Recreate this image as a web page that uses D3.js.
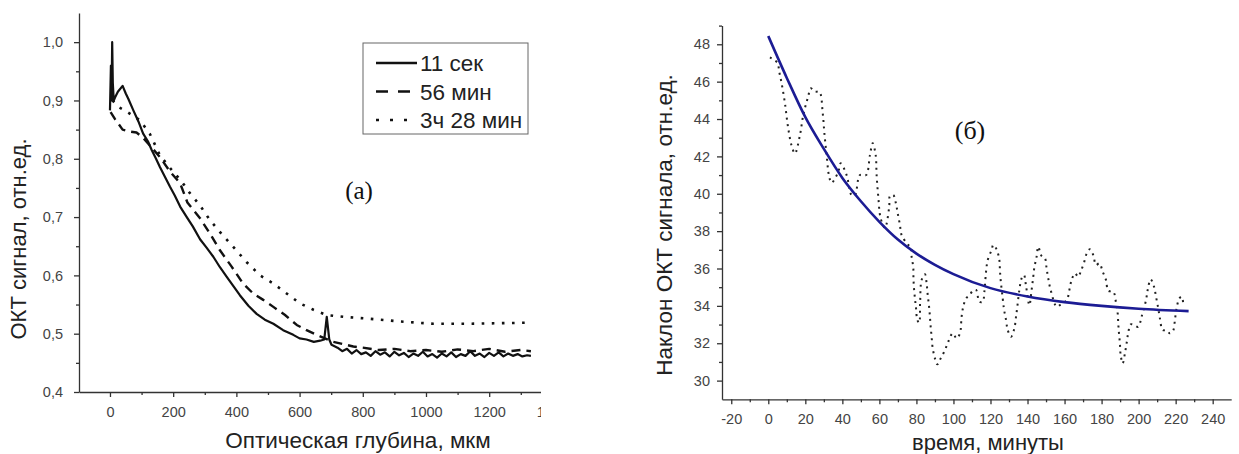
<!DOCTYPE html>
<html>
<head>
<meta charset="utf-8">
<script src="https://cdn.jsdelivr.net/npm/d3@7"></script>
<style>
  body { margin: 0; background: #fff; }
  svg text { font-family: "Liberation Sans", Arial, sans-serif; }
  .axis path, .axis line { stroke: #333; stroke-width: 1.3; }
  .axis text { fill: #444; font-size: 14.5px; }
  .axis-title { fill: #222; }
  .panel-label { font-family: "Liberation Serif", "Times New Roman", serif !important; fill: #111; }
</style>
</head>
<body>
<svg id="chart"></svg>
<script>
// ---- left panel (а): OCT signal vs optical depth ----
const depth11s = [0, 3, 5, 7, 9, 12, 16, 25, 40, 50, 58, 74, 90, 105, 120, 132, 145, 158, 175, 190, 205, 222, 243, 262, 285, 305, 327, 348, 369, 390, 411, 438, 464, 490, 517, 548, 580, 600, 622, 645, 665, 678, 686, 694, 701,
  720, 735, 750, 765, 780, 795, 810, 825, 840, 855, 870, 885, 900, 915, 930, 945, 960, 975, 990, 1005, 1020, 1035, 1050, 1065, 1080, 1095, 1110, 1125, 1140, 1155, 1170, 1185, 1200, 1215, 1230, 1245, 1260, 1275, 1290, 1305, 1320, 1332];
const signal11s = [0.883, 0.96, 0.90, 1.0, 0.93, 0.90, 0.905, 0.915, 0.925, 0.912, 0.903, 0.883, 0.864, 0.843, 0.83, 0.815, 0.801, 0.786, 0.768, 0.752, 0.737, 0.718, 0.70, 0.684, 0.662, 0.648, 0.632, 0.614, 0.598, 0.582, 0.566, 0.548, 0.534, 0.524, 0.517, 0.506, 0.498, 0.492, 0.49, 0.486, 0.488, 0.49, 0.529, 0.49, 0.481,
  0.476, 0.47, 0.474, 0.466, 0.472, 0.465, 0.468, 0.462, 0.47, 0.464, 0.468, 0.461, 0.469, 0.463, 0.467, 0.46, 0.466, 0.462, 0.469, 0.461, 0.465, 0.459, 0.466, 0.461, 0.468, 0.46, 0.465, 0.462, 0.47, 0.462, 0.466, 0.46, 0.467, 0.462, 0.468, 0.461, 0.466, 0.462, 0.465, 0.461, 0.463, 0.462];

const depth56m = [2, 16, 40, 60, 84, 105, 126, 158, 190, 222, 245, 285, 316, 348, 385, 421, 453, 485, 517, 554, 591, 622, 654, 706, 770, 800, 850, 900, 950, 1000, 1050, 1100, 1150, 1200, 1250, 1300, 1332];
const signal56m = [0.88, 0.868, 0.85, 0.847, 0.845, 0.836, 0.823, 0.803, 0.778, 0.758, 0.725, 0.698, 0.672, 0.643, 0.615, 0.586, 0.569, 0.558, 0.546, 0.532, 0.515, 0.506, 0.498, 0.486, 0.478, 0.476, 0.472, 0.474, 0.47, 0.472, 0.469, 0.473, 0.47, 0.474, 0.469, 0.472, 0.47];

const depth3h = [8, 26, 47, 95, 126, 158, 195, 227, 253, 285, 316, 358, 390, 432, 475, 517, 559, 601, 644, 686, 738, 812, 918, 1023, 1129, 1234, 1335];
const signal3h = [0.90, 0.889, 0.883, 0.866, 0.843, 0.806, 0.781, 0.761, 0.741, 0.72, 0.695, 0.668, 0.649, 0.623, 0.60, 0.586, 0.569, 0.552, 0.541, 0.532, 0.529, 0.526, 0.521, 0.517, 0.517, 0.518, 0.519];

const legendNames = ['11 сек', '56 мин', '3ч 28 мин'];
const leftXTicks = [0, 200, 400, 600, 800, 1000, 1200, 1400];
const leftXMinor = [100, 300, 500, 700, 900, 1100, 1300];
const leftYTicks = [0.4, 0.5, 0.6, 0.7, 0.8, 0.9, 1.0];
const leftYMinor = [0.45, 0.55, 0.65, 0.75, 0.85, 0.95];

// ---- right panel (б): slope of OCT signal vs time ----
const timeRaw = [0.9, 4.9, 5.9, 7.2, 9.0, 10.5, 12.6, 14.4, 17.1, 18.9, 21.6, 22.9, 25.2, 27.6, 29.4, 30.3, 31.5, 32.9, 34.2, 37.8, 39.1, 42.3, 45.0, 46.8, 49.5, 52.8, 54.9, 56.4, 58.0, 58.5, 59.4, 60.7, 63.0, 65.3, 65.7, 67.5, 69.0, 69.9, 71.1, 72.0, 75.6, 76.9, 77.4, 78.3, 78.4, 78.7, 79.2, 79.8, 80.5, 81.5, 82.0, 82.8, 84.6, 85.5, 86.1, 86.8, 87.3, 87.7, 88.2, 88.8, 90.0, 91.3, 93.1, 95.4, 97.2, 99.6, 101.7, 103.5, 104.4, 105.3, 106.8, 108.5, 110.4, 112.2, 114.0, 115.8, 116.7, 117.6, 118.5, 120.6, 121.5, 123.3, 124.8, 125.1, 125.5, 126.6, 127.3, 128.4, 129.3, 131.1, 132.9, 133.8, 134.5, 135.6, 136.8, 138.1, 139.2, 141.0, 142.2, 143.1, 143.7, 144.9, 145.8, 147.6, 149.4, 150.3, 151.2, 152.5, 155.7, 157.5, 161.2, 162.6, 163.8, 165.6, 167.4, 168.7, 170.5, 172.0, 173.7, 175.5, 177.0, 178.8, 180.6, 182.4, 183.6, 186.3, 187.8, 188.7, 189.0, 189.4, 189.9, 190.3, 191.4, 192.6, 193.5, 194.4, 195.7, 197.5, 199.8, 201.6, 204.0, 204.9, 206.5, 208.3, 209.4, 210.6, 211.5, 213.0, 215.1, 216.9, 218.7, 219.6, 220.5, 222.0, 223.3, 224.1];
const slopeRaw = [47.3, 47.01, 46.53, 45.91, 44.84, 43.68, 42.57, 42.16, 43.14, 44.22, 45.23, 45.64, 45.46, 45.46, 44.31, 43.24, 42.07, 40.91, 40.59, 41.18, 41.63, 41.0, 39.93, 39.93, 41.0, 41.0, 42.07, 42.7, 42.07, 41.0, 39.84, 38.68, 38.18, 39.3, 39.88, 39.93, 39.45, 38.95, 38.33, 37.79, 37.26, 37.17, 36.63, 36.06, 35.47, 34.94, 34.4, 33.87, 33.24, 33.1, 34.2, 35.38, 35.69, 35.21, 34.58, 33.99, 33.42, 32.88, 32.35, 31.73, 31.19, 30.87, 31.19, 31.63, 32.08, 32.53, 32.26, 32.53, 33.42, 33.96, 34.4, 34.55, 34.8, 34.85, 34.22, 34.22, 34.76, 35.83, 36.45, 36.99, 37.26, 37.03, 36.45, 35.92, 35.38, 34.4, 33.82, 33.24, 32.71, 32.35, 32.8, 33.42, 33.96, 34.85, 35.47, 35.65, 35.06, 34.04, 34.85, 35.56, 36.06, 36.63, 37.17, 36.67, 36.55, 36.01, 35.47, 34.85, 33.96, 34.04, 34.31, 34.85, 35.38, 35.74, 35.56, 35.83, 36.31, 36.81, 37.03, 36.72, 36.19, 36.28, 35.83, 35.38, 34.81, 34.76, 34.17, 33.6, 33.06, 32.53, 31.99, 31.37, 30.92, 31.46, 31.99, 32.56, 33.01, 32.97, 32.88, 33.42, 34.31, 34.85, 35.42, 35.03, 34.49, 33.87, 33.33, 32.71, 32.69, 32.53, 32.69, 33.24, 33.87, 34.4, 34.49, 34.1];

const timeFit = [0, 10, 20, 30, 40, 50, 60, 70, 80, 90, 100, 120, 140, 160, 180, 200, 227];
const slopeFit = [48.44, 46.2, 44.1, 42.4, 40.85, 39.6, 38.5, 37.55, 36.8, 36.2, 35.7, 34.95, 34.5, 34.2, 34.0, 33.85, 33.72];

const rightXTicks = d3.range(-20, 241, 20);
const rightXMinor = d3.range(-10, 231, 20);
const rightYTicks = d3.range(30, 49, 2);
const rightYMinor = d3.range(31, 50, 2);

const commaFmt = v => d3.format('.1f')(v).replace('.', ',');
const plainFmt = v => String(v);

const svg = d3.select('#chart').attr('width', 1239).attr('height', 454);

// ===== left panel =====
svg.append('defs').append('clipPath').attr('id', 'leftClip')
  .append('rect').attr('x', 0).attr('y', 0).attr('width', 541).attr('height', 454);
const left = svg.append('g').attr('clip-path', 'url(#leftClip)');

const lx = d3.scaleLinear().domain([-98, 1400]).range([79, 552.4]);
const ly = d3.scaleLinear().domain([0.4, 1.05]).range([392, 13]);

left.append('g').attr('class', 'axis').attr('transform', 'translate(0,392)')
  .call(d3.axisBottom(lx).tickValues(leftXTicks).tickSize(5).tickSizeOuter(0).tickPadding(10).tickFormat(plainFmt));
left.append('g').attr('class', 'axis').attr('transform', 'translate(0,392)')
  .call(d3.axisBottom(lx).tickValues(leftXMinor).tickSize(3).tickFormat(''))
  .select('.domain').remove();
left.append('g').attr('class', 'axis').attr('transform', 'translate(79,0)')
  .call(d3.axisLeft(ly).tickValues(leftYTicks).tickSize(5).tickSizeOuter(0).tickPadding(11).tickFormat(commaFmt));
left.append('g').attr('class', 'axis').attr('transform', 'translate(79,0)')
  .call(d3.axisLeft(ly).tickValues(leftYMinor).tickSize(3).tickFormat(''))
  .select('.domain').remove();

const leftLine = d3.line().x(d => lx(d[0])).y(d => ly(d[1]));
const leftSeries = [
  { pts: d3.zip(depth11s, signal11s), dash: null, w: 2.2 },
  { pts: d3.zip(depth56m, signal56m), dash: '9,6', w: 2.4 },
  { pts: d3.zip(depth3h, signal3h), dash: '2.6,7.5', w: 2.6 },
];
left.selectAll('.series').data(leftSeries).join('path')
  .attr('class', 'series')
  .attr('d', d => leftLine(d.pts))
  .attr('fill', 'none')
  .attr('stroke', '#111')
  .attr('stroke-width', d => d.w)
  .attr('stroke-linejoin', 'round')
  .attr('stroke-dasharray', d => d.dash);

// legend
const legend = svg.append('g');
legend.append('rect').attr('x', 363).attr('y', 43).attr('width', 165).attr('height', 91)
  .attr('fill', '#fff').attr('stroke', '#666').attr('stroke-width', 1);
const legDash = [null, '12,10', '3,11'];
legendNames.forEach((name, i) => {
  const yy = 63 + i * 28.5;
  legend.append('line').attr('x1', 376).attr('x2', i === 2 ? 409 : 417).attr('y1', yy).attr('y2', yy)
    .attr('stroke', '#111').attr('stroke-width', 2.6).attr('stroke-dasharray', legDash[i]);
  legend.append('text').attr('x', 420).attr('y', yy + 8).attr('font-size', 22.5).attr('fill', '#222').text(name);
});

svg.append('text').attr('class', 'panel-label').attr('x', 359).attr('y', 199)
  .attr('text-anchor', 'middle').attr('font-size', 25).text('(а)');

svg.append('text').attr('class', 'axis-title').attr('transform', 'translate(26,239) rotate(-90)')
  .attr('text-anchor', 'middle').attr('font-size', 22).text('ОКТ сигнал, отн.ед.');
svg.append('text').attr('class', 'axis-title').attr('x', 358).attr('y', 448)
  .attr('text-anchor', 'middle').attr('font-size', 22.5).text('Оптическая глубина, мкм');

// ===== right panel =====
const rx = d3.scaleLinear().domain([-25, 250]).range([722, 1231.2]);
const ry = d3.scaleLinear().domain([29, 49]).range([399.3, 25.6]);

svg.append('g').attr('class', 'axis').attr('transform', 'translate(0,399.3)')
  .call(d3.axisBottom(rx).tickValues(rightXTicks).tickSize(5).tickSizeOuter(0).tickPadding(9).tickFormat(plainFmt));
svg.append('g').attr('class', 'axis').attr('transform', 'translate(0,399.3)')
  .call(d3.axisBottom(rx).tickValues(rightXMinor).tickSize(3).tickFormat(''))
  .select('.domain').remove();
svg.append('g').attr('class', 'axis').attr('transform', 'translate(722,0)')
  .call(d3.axisLeft(ry).tickValues(rightYTicks).tickSize(5).tickSizeOuter(0).tickPadding(7).tickFormat(plainFmt));
svg.append('g').attr('class', 'axis').attr('transform', 'translate(722,0)')
  .call(d3.axisLeft(ry).tickValues(rightYMinor).tickSize(3).tickFormat(''))
  .select('.domain').remove();

svg.append('path')
  .attr('d', d3.line().x(d => rx(d[0])).y(d => ry(d[1])).curve(d3.curveCatmullRom)(d3.zip(timeRaw, slopeRaw)))
  .attr('fill', 'none').attr('stroke', '#222').attr('stroke-width', 2)
  .attr('stroke-dasharray', '2,4.5');

svg.append('path')
  .attr('d', d3.line().x(d => rx(d[0])).y(d => ry(d[1])).curve(d3.curveMonotoneX)(d3.zip(timeFit, slopeFit)))
  .attr('fill', 'none').attr('stroke', '#1c1c94').attr('stroke-width', 2.6);

svg.append('text').attr('class', 'panel-label').attr('x', 970).attr('y', 139)
  .attr('text-anchor', 'middle').attr('font-size', 26).text('(б)');

svg.append('text').attr('class', 'axis-title').attr('transform', 'translate(672,225) rotate(-90)')
  .attr('text-anchor', 'middle').attr('font-size', 22.5).text('Наклон ОКТ сигнала, отн.ед.');
svg.append('text').attr('class', 'axis-title').attr('x', 988).attr('y', 450)
  .attr('text-anchor', 'middle').attr('font-size', 22).text('время, минуты');
</script>
</body>
</html>
